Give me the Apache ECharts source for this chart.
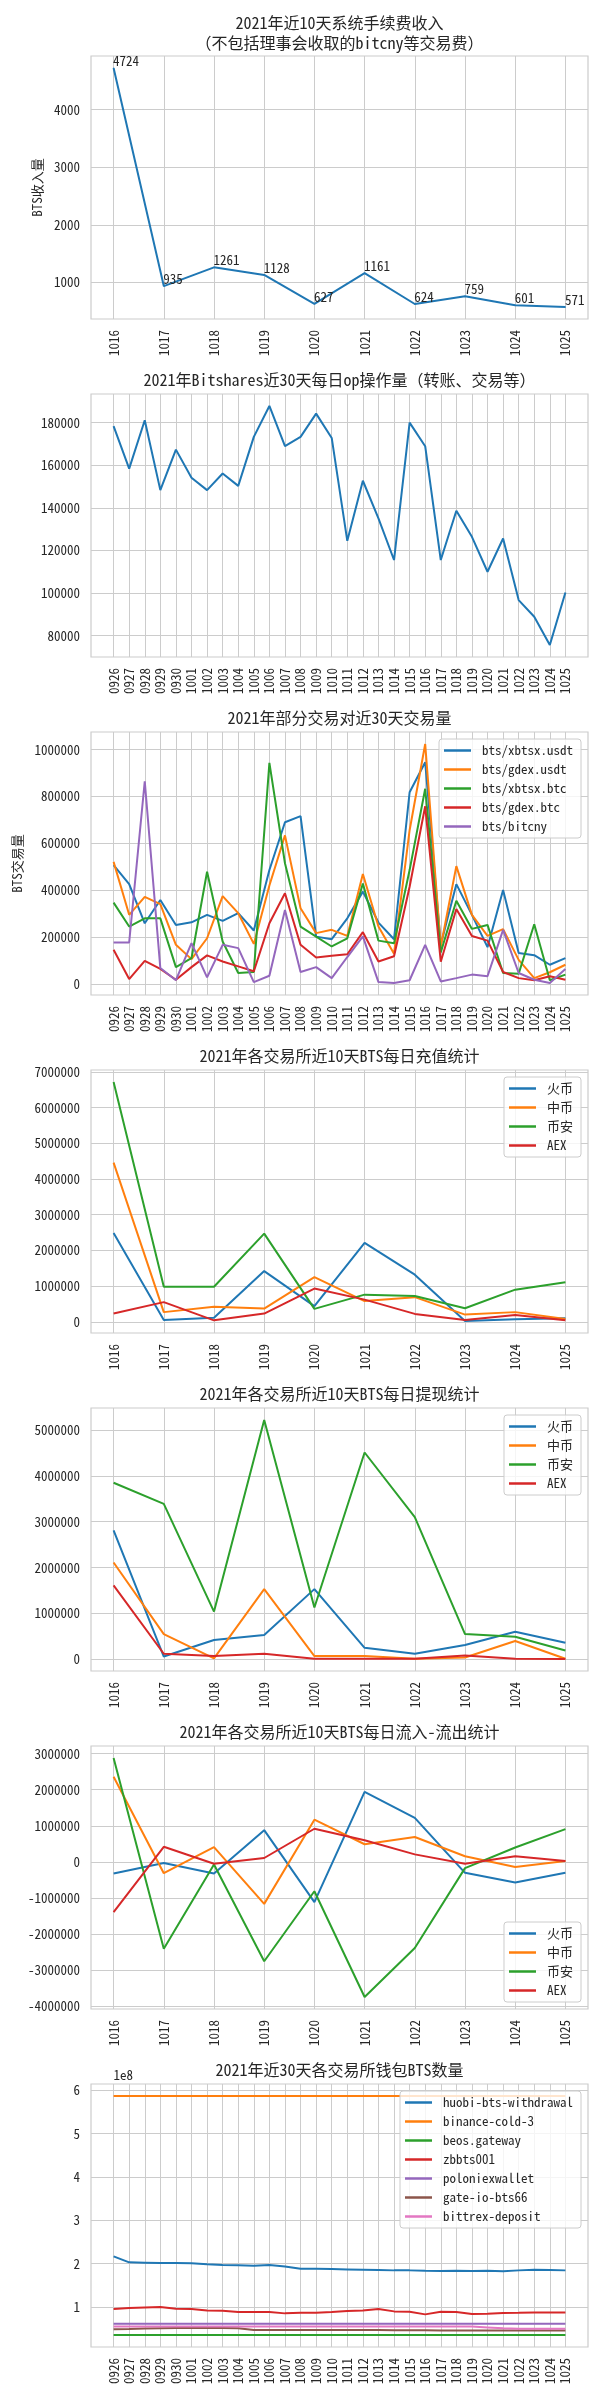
<!DOCTYPE html>
<html><head><meta charset="utf-8">
<script src="https://cdn.jsdelivr.net/npm/echarts@6/dist/echarts.min.js"></script>
<style>html,body{margin:0;padding:0;background:#fff}#c{width:600px;height:2400px}</style>
</head><body><div id="c"></div>
<script>
// ---------- data ----------
const days10 = ['1016','1017','1018','1019','1020','1021','1022','1023','1024','1025'];
const days30 = ['0926','0927','0928','0929','0930','1001','1002','1003','1004','1005','1006','1007','1008','1009','1010',
                '1011','1012','1013','1014','1015','1016','1017','1018','1019','1020','1021','1022','1023','1024','1025'];

const feeIncome = [4724, 935, 1261, 1128, 627, 1161, 624, 759, 601, 571];
const feeTicks = [1000, 2000, 3000, 4000];

const opCount = [178300,158400,181100,148300,167300,154100,148300,156100,150300,173300,187800,168900,173300,184200,172800,
                 124500,152700,135000,115500,180000,168900,115500,138600,126400,110000,125600,96700,88900,75600,100300];
const opTicks = [80000, 100000, 120000, 140000, 160000, 180000];

const pairNames = ['bts/xbtsx.usdt','bts/gdex.usdt','bts/xbtsx.btc','bts/gdex.btc','bts/bitcny'];
const xbtsxUsdt = [507000,426000,259000,358000,252000,263000,295000,269000,302000,228000,486000,690000,716000,202000,191000,
                   280000,394000,262000,191000,818000,946000,167000,426000,295000,157000,401000,132000,123000,82000,110000];
const gdexUsdt  = [521000,295000,372000,341000,167000,106000,195000,375000,302000,171000,420000,634000,323000,217000,231000,
                   205000,469000,245000,129000,656000,1024000,160000,503000,295000,205000,234000,103000,25000,50000,82000];
const xbtsxBtc  = [347000,245000,280000,280000,72000,110000,479000,181000,47000,51000,943000,515000,245000,202000,160000,
                   195000,429000,185000,174000,486000,833000,135000,355000,235000,252000,47000,44000,255000,16000,40000];
const gdexBtc   = [146000,21000,99000,64000,18000,72000,122000,96000,75000,54000,259000,387000,167000,113000,120000,
                   127000,221000,96000,118000,415000,758000,95000,320000,205000,185000,51000,25000,16000,33000,18000];
const bitcny    = [177000,177000,865000,68000,16000,174000,28000,167000,153000,8000,35000,316000,51000,72000,25000,
                   115000,203000,8000,4000,16000,167000,11000,25000,40000,33000,231000,47000,18000,4000,64000];
const pairTicks = [0, 200000, 400000, 600000, 800000, 1000000];

const exNames = ['火币','中币','币安','AEX'];
const depHuobi   = [2490000,50000,110000,1420000,440000,2210000,1320000,20000,70000,100000];
const depZb      = [4460000,270000,420000,370000,1250000,580000,690000,200000,270000,80000];
const depBinance = [6720000,980000,980000,2470000,360000,760000,720000,380000,900000,1110000];
const depAex     = [230000,550000,40000,230000,930000,620000,220000,50000,190000,40000];
const depTicks = [0,1000000,2000000,3000000,4000000,5000000,6000000,7000000];

const wdHuobi   = [2810000,60000,420000,530000,1530000,250000,120000,310000,600000,360000];
const wdZb      = [2110000,550000,20000,1530000,70000,70000,10000,40000,400000,10000];
const wdBinance = [3850000,3390000,1040000,5220000,1130000,4510000,3100000,550000,490000,190000];
const wdAex     = [1610000,120000,70000,120000,10000,10000,10000,80000,10000,5000];
const wdTicks = [0,1000000,2000000,3000000,4000000,5000000];

const netHuobi   = [-320000,-30000,-320000,880000,-1110000,1940000,1220000,-300000,-570000,-300000];
const netZb      = [2360000,-310000,410000,-1160000,1170000,490000,690000,160000,-140000,30000];
const netBinance = [2880000,-2400000,-70000,-2750000,-810000,-3740000,-2380000,-170000,400000,910000];
const netAex     = [-1390000,420000,-50000,110000,920000,600000,210000,-50000,160000,30000];
const netTicks = [-4000000,-3000000,-2000000,-1000000,0,1000000,2000000,3000000];

const walletNames = ['huobi-bts-withdrawal','binance-cold-3','beos.gateway','zbbts001','poloniexwallet','gate-io-bts66','bittrex-deposit'];
const wHuobi = [2.169e8,2.031e8,2.023e8,2.015e8,2.015e8,2.008e8,1.985e8,1.969e8,1.962e8,1.954e8,1.969e8,1.938e8,1.885e8,1.885e8,1.877e8,
                1.869e8,1.862e8,1.854e8,1.846e8,1.846e8,1.838e8,1.831e8,1.838e8,1.831e8,1.838e8,1.823e8,1.846e8,1.862e8,1.854e8,1.846e8];
const wBinance = [5.87e8,5.87e8,5.87e8,5.87e8,5.87e8,5.87e8,5.87e8,5.87e8,5.87e8,5.87e8,5.87e8,5.87e8,5.87e8,5.87e8,5.87e8,
                  5.87e8,5.87e8,5.87e8,5.87e8,5.87e8,5.87e8,5.87e8,5.87e8,5.87e8,5.87e8,5.87e8,5.87e8,5.87e8,5.87e8,5.87e8];
const wBeos = [0.354e8,0.354e8,0.354e8,0.354e8,0.354e8,0.354e8,0.354e8,0.354e8,0.354e8,0.354e8,0.354e8,0.354e8,0.354e8,0.354e8,0.354e8,
               0.354e8,0.354e8,0.354e8,0.354e8,0.354e8,0.354e8,0.354e8,0.354e8,0.354e8,0.354e8,0.354e8,0.354e8,0.354e8,0.354e8,0.354e8];
const wZb = [0.954e8,0.977e8,0.992e8,1.0e8,0.962e8,0.954e8,0.923e8,0.915e8,0.885e8,0.885e8,0.885e8,0.854e8,0.869e8,0.869e8,0.885e8,
             0.908e8,0.923e8,0.954e8,0.9e8,0.892e8,0.831e8,0.892e8,0.885e8,0.838e8,0.846e8,0.862e8,0.869e8,0.877e8,0.877e8,0.877e8];
const wPolo = [0.615e8,0.615e8,0.615e8,0.615e8,0.615e8,0.615e8,0.615e8,0.615e8,0.615e8,0.615e8,0.615e8,0.615e8,0.615e8,0.615e8,0.615e8,
               0.615e8,0.615e8,0.615e8,0.615e8,0.615e8,0.615e8,0.615e8,0.615e8,0.615e8,0.615e8,0.615e8,0.615e8,0.615e8,0.615e8,0.615e8];
const wGate = [0.49e8,0.495e8,0.505e8,0.51e8,0.515e8,0.515e8,0.515e8,0.515e8,0.51e8,0.47e8,0.47e8,0.47e8,0.47e8,0.47e8,0.47e8,
               0.47e8,0.47e8,0.47e8,0.465e8,0.465e8,0.465e8,0.46e8,0.46e8,0.46e8,0.46e8,0.46e8,0.46e8,0.46e8,0.46e8,0.46e8];
const wBittrex = [0.55e8,0.55e8,0.55e8,0.55e8,0.55e8,0.55e8,0.55e8,0.55e8,0.55e8,0.55e8,0.55e8,0.55e8,0.55e8,0.55e8,0.55e8,
                  0.55e8,0.55e8,0.55e8,0.55e8,0.55e8,0.55e8,0.55e8,0.55e8,0.55e8,0.53e8,0.51e8,0.50e8,0.50e8,0.50e8,0.50e8];
const walletTicks = [1e8,2e8,3e8,4e8,5e8,6e8];

const titles = [
  '2021年近10天系统手续费收入\n（不包括理事会收取的bitcny等交易费）',
  '2021年Bitshares近30天每日op操作量（转账、交易等）',
  '2021年部分交易对近30天交易量',
  '2021年各交易所近10天BTS每日充值统计',
  '2021年各交易所近10天BTS每日提现统计',
  '2021年各交易所近10天BTS每日流入-流出统计',
  '2021年近30天各交易所钱包BTS数量'
];

// ---------- style / layout ----------
const FONT = "'Noto Sans Mono CJK SC','Noto Sans CJK SC',sans-serif";
const TXT = '#262626';
const GRIDC = '#cccccc';
const C = ['#1f77b4','#ff7f0e','#2ca02c','#d62728','#9467bd','#8c564b','#e377c2'];
const TOP0 = 56, STEP = 338, H = 263, LEFT = 91, W = 497;
const FS = 13;

const grids = [], xAxes = [], yAxes = [], series = [], titleCmp = [], legends = [];

function xAxis(i, cats) {
  const idx = cats.map((_, k) => k);
  const n = cats.length - 1;
  return {
    type: 'value', gridIndex: i, min: -0.05 * n, max: n * 1.05,
    axisLine: {show: false}, axisTick: {show: false, customValues: idx},
    splitLine: {show: true, lineStyle: {color: GRIDC, width: 1}},
    axisLabel: {customValues: idx, formatter: v => cats[Math.round(v)], rotate: 90, margin: 11,
                color: TXT, fontSize: FS, fontFamily: FONT}
  };
}
function yAxis(i, ticks, fmt, extra) {
  return Object.assign({
    type: 'value', gridIndex: i,
    min: v => v.min - 0.05 * (v.max - v.min),
    max: v => v.max + 0.05 * (v.max - v.min),
    axisLine: {show: false}, axisTick: {show: false, customValues: ticks},
    splitLine: {show: true, lineStyle: {color: GRIDC, width: 1}},
    axisLabel: {customValues: ticks, formatter: fmt || (v => String(v)), margin: 11,
                color: TXT, fontSize: FS, fontFamily: FONT},
    nameTextStyle: {color: TXT, fontSize: FS, fontFamily: FONT}
  }, extra || {});
}
function line(name, vals, gi, color, extra) {
  return Object.assign({
    type: 'line', name: name, xAxisIndex: gi, yAxisIndex: gi,
    data: vals.map((v, k) => [k, v]),
    symbol: 'none', showSymbol: false, color: color,
    lineStyle: {width: 2, color: color}, silent: true, emphasis: {disabled: true}
  }, extra || {});
}
function legend(names, pos) {
  return Object.assign({
    orient: 'vertical', align: 'left', data: names, right: 19,
    icon: 'rect', itemWidth: 27, itemHeight: 2.5, itemGap: 6, padding: [5, 8, 5, 5],
    backgroundColor: 'rgba(255,255,255,0.8)', borderColor: GRIDC, borderWidth: 1, borderRadius: 3,
    selectedMode: false,
    textStyle: {color: TXT, fontSize: FS, fontFamily: FONT, lineHeight: 13, padding: [0, 0, 0, 6]}
  }, pos);
}

const catsFor = [days10, days30, days30, days10, days10, days10, days30];
for (let i = 0; i < 7; i++) {
  const top = TOP0 + STEP * i;
  grids.push({left: LEFT, width: W, top: top, height: H, show: true, borderColor: GRIDC, borderWidth: 1.2, backgroundColor: '#fff'});
  xAxes.push(xAxis(i, catsFor[i]));
  titleCmp.push({
    text: titles[i], left: LEFT + W / 2, top: i === 0 ? 13 : top - 24, textAlign: 'center', padding: 0,
    textStyle: {fontSize: 16, fontWeight: 'normal', color: TXT, fontFamily: FONT, lineHeight: 20}
  });
}

yAxes.push(yAxis(0, feeTicks, null, {name: 'BTS收入量', nameLocation: 'middle', nameGap: 43}));
yAxes.push(yAxis(1, opTicks));
yAxes.push(yAxis(2, pairTicks, null, {name: 'BTS交易量', nameLocation: 'middle', nameGap: 62}));
yAxes.push(yAxis(3, depTicks));
yAxes.push(yAxis(4, wdTicks));
yAxes.push(yAxis(5, netTicks));
yAxes.push(yAxis(6, walletTicks, v => String(Math.round(v / 1e8)), {
  name: '1e8', nameLocation: 'end', nameGap: 2,
  nameTextStyle: {color: TXT, fontSize: FS, fontFamily: FONT, align: 'left', verticalAlign: 'bottom'}
}));

// chart 1
series.push(line('手续费收入', feeIncome, 0, C[0], {
  symbol: 'circle', symbolSize: 1, showSymbol: true,
  label: {show: true, position: [0, 0], align: 'left', verticalAlign: 'bottom',
          formatter: p => String(p.value[1]), color: TXT, fontSize: FS, fontFamily: FONT}
}));
// chart 2
series.push(line('op操作量', opCount, 1, C[0]));
// chart 3
[xbtsxUsdt, gdexUsdt, xbtsxBtc, gdexBtc, bitcny].forEach((d, k) => series.push(line(pairNames[k], d, 2, C[k])));
// chart 4,5,6
[depHuobi, depZb, depBinance, depAex].forEach((d, k) => series.push(line(exNames[k], d, 3, C[k])));
[wdHuobi, wdZb, wdBinance, wdAex].forEach((d, k) => series.push(line(exNames[k], d, 4, C[k])));
[netHuobi, netZb, netBinance, netAex].forEach((d, k) => series.push(line(exNames[k], d, 5, C[k])));
// chart 7
[wHuobi, wBinance, wBeos, wZb, wPolo, wGate, wBittrex].forEach((d, k) => series.push(line(walletNames[k], d, 6, C[k])));

legends.push(legend(pairNames, {top: TOP0 + STEP * 2 + 7}));
legends.push(legend(exNames, {top: TOP0 + STEP * 3 + 7}));
legends.push(legend(exNames, {top: TOP0 + STEP * 4 + 7}));
legends.push(legend(exNames, {bottom: 2400 - (TOP0 + STEP * 5 + H - 7)}));
legends.push(legend(walletNames, {top: TOP0 + STEP * 6 + 7}));

const chart = echarts.init(document.getElementById('c'), null, {renderer: 'canvas'});
chart.setOption({
  animation: false,
  backgroundColor: '#ffffff',
  textStyle: {fontFamily: FONT, color: TXT},
  title: titleCmp,
  legend: legends,
  grid: grids,
  xAxis: xAxes,
  yAxis: yAxes,
  series: series
});
</script>
</body></html>
